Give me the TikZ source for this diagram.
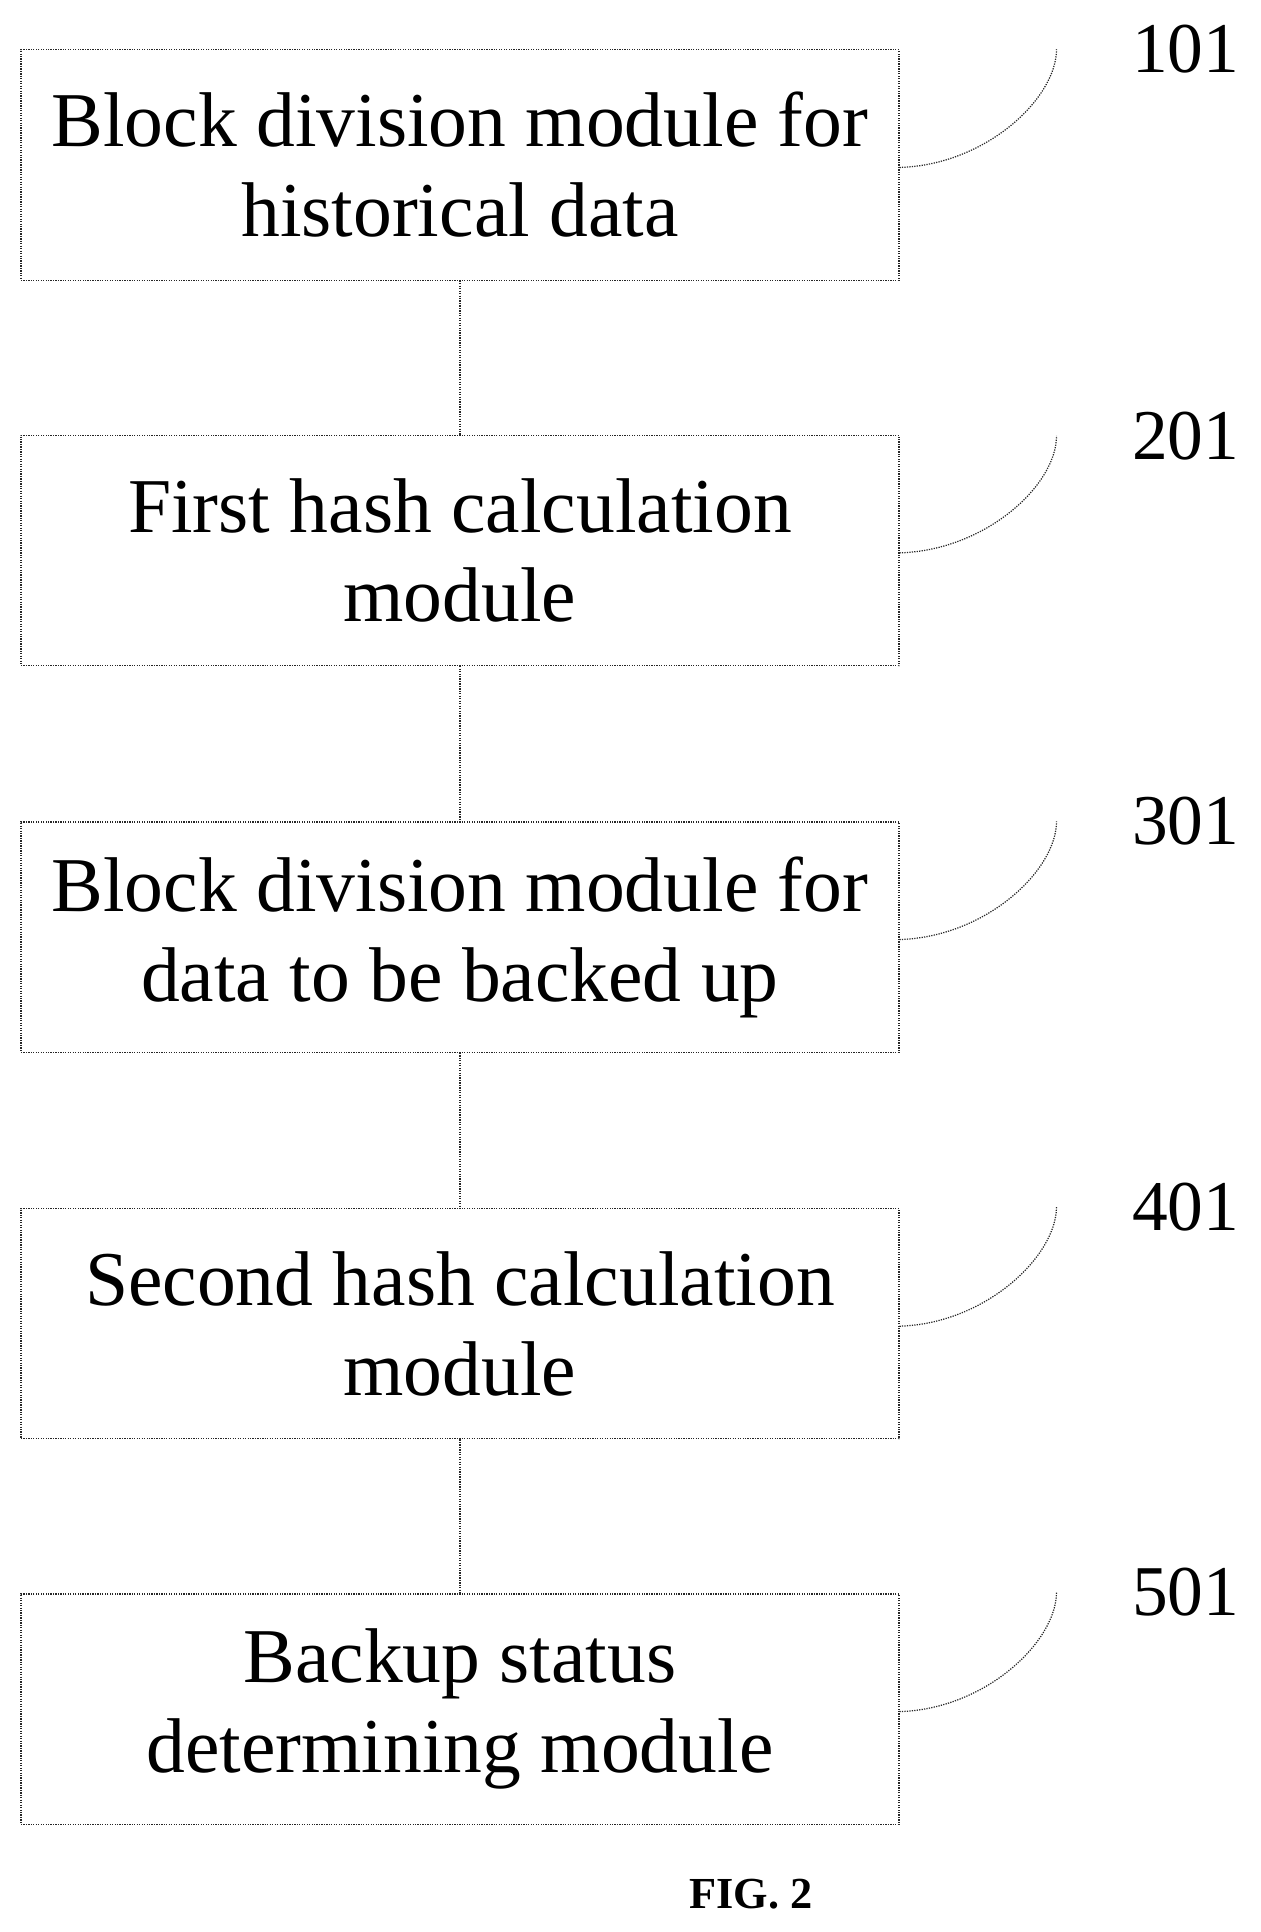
\documentclass[tikz,border=0pt]{standalone}
\usepackage{fontspec}
\setmainfont{Liberation Serif}
\begin{document}
\begin{tikzpicture}[x=1pt,y=-1pt,
 box/.style={draw=black!85,densely dotted,line width=1pt,minimum width=713pt,minimum height=187pt,align=center,font=\fontsize{63}{73}\selectfont,inner sep=0pt},
 con/.style={draw=black!85,densely dotted,line width=1pt},
 lab/.style={font=\fontsize{58}{60}\selectfont,anchor=center}]
\useasboundingbox (0,0) rectangle (1024,1569);
\node[box] (b1) at (373.5,134) {Block division module for\\historical data};
\node[box] (b2) at (373.5,447) {First hash calculation\\module};
\node[box] (b3) at (373.5,761) {Block division module for\\data to be backed up};
\node[box] (b4) at (373.5,1075) {Second hash calculation\\module};
\node[box] (b5) at (373.5,1388) {Backup status\\determining module};
\draw[con] (b1) -- (b2); \draw[con] (b2) -- (b3); \draw[con] (b3) -- (b4); \draw[con] (b4) -- (b5);
\foreach \b/\t/\y in {b1/101/40, b2/201/354, b3/301/667, b4/401/980, b5/501/1293}{
 \coordinate (c\b) at (858,\y);
 \draw[con] ([yshift=-2pt]\b.east) .. controls +(70,-2) and +(0,40) .. (c\b);
 \node[lab] (l\b) at (963,\y) {\t};
}
\node[font=\bfseries\fontsize{36}{40}\selectfont] (fig) at (610,1538) {FIG. 2};
\end{tikzpicture}
\end{document}
